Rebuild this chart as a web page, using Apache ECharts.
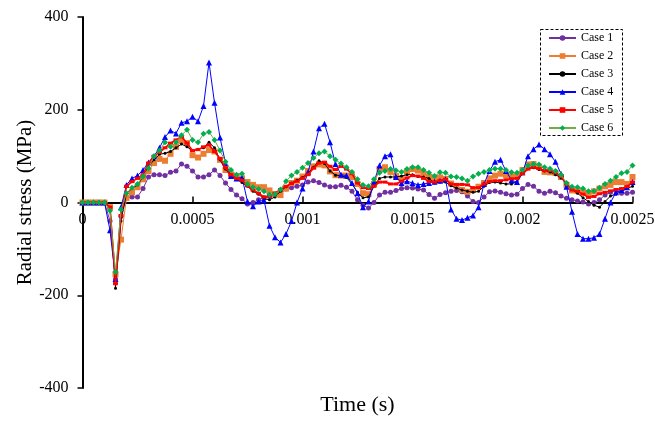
<!DOCTYPE html>
<html>
<head>
<meta charset="utf-8">
<script src="https://cdn.jsdelivr.net/npm/echarts@6/dist/echarts.min.js"></script>
<style>
  html, body { margin: 0; padding: 0; background: #fff; }
  #chart { width: 655px; height: 421px; }
</style>
</head>
<body>
<div id="chart"></div>
<script>
// Sampling interval of the recorded stress histories (s)
const TIME_STEP = 2.5e-5;

const xTicks = [0, 0.0005, 0.001, 0.0015, 0.002, 0.0025];
const yTicks = [-400, -200, 0, 200, 400];

const caseNames = ['Case 1', 'Case 2', 'Case 3', 'Case 4', 'Case 5', 'Case 6'];

// Radial stress (MPa) per case, one value per time step
const case1 = [
  0, 0, 0, 0, 0, -40, -165, -30, 10, 12,
  12, 30, 55, 60, 60, 58, 65, 68, 83, 78,
  68, 55, 55, 60, 70, 58, 42, 28, 16, 8,
  -3, 0, 6, 10, 13, 16, 22, 29, 32, 35,
  38, 44, 47, 43, 38, 34, 34, 37, 33, 24,
  6, -6, -12, 0, 16, 22, 22, 26, 30, 32,
  31, 29, 27, 17, 9, 17, 21, 24, 26, 23,
  14, 2, 0, 12, 23, 25, 22, 19, 16, 18,
  30, 39, 35, 24, 20, 24, 21, 14, 9, 6,
  3, 1, -3, 0, 6, 16, 22, 26, 20, 20,
  22
];
const case2 = [
  0, 0, 0, 0, 0, -10, -155, -80, 10, 22,
  33, 50, 68, 85, 94, 90, 105, 120, 133, 128,
  102, 97, 105, 113, 110, 92, 70, 60, 57, 52,
  44, 38, 33, 33, 26, 18, 16, 30, 42, 47,
  56, 68, 78, 82, 80, 67, 59, 58, 58, 55,
  40, 20, 18, 40, 72, 76, 66, 57, 52, 67,
  72, 69, 62, 55, 52, 54, 51, 41, 35, 27,
  23, 27, 34, 42, 52, 58, 62, 59, 56, 58,
  70, 82, 83, 77, 66, 65, 64, 55, 38, 26,
  25, 22, 19, 24, 30, 35, 38, 44, 44, 40,
  55
];
const case3 = [
  0, 0, 0, 0, 0, -10, -185, -40, 20, 30,
  38, 55, 78, 92, 104, 106, 110, 118, 126, 120,
  112, 115, 118, 130, 118, 92, 72, 57, 50, 43,
  35, 24, 18, 8, 6, 12, 24, 34, 42, 48,
  54, 63, 76, 90, 84, 68, 59, 58, 54, 40,
  22, 10, 12, 35, 52, 55, 55, 55, 57, 60,
  60, 56, 55, 52, 42, 44, 44, 36, 31, 27,
  24, 22, 24, 35, 43, 44, 42, 40, 40, 45,
  62, 74, 75, 71, 68, 66, 60, 53, 40, 28,
  20, 10, 2, -6, -10, 2, 14, 18, 24, 30,
  35
];
const case4 = [
  0, 0, 0, 0, 0, -60, -165, -10, 38, 52,
  58, 70, 86, 100, 118, 141, 155, 149, 172, 175,
  185, 175, 208, 302, 215, 140, 85, 57, 52, 54,
  2, -8, 2, 5, -50, -75, -86, -68, -40, 0,
  30, 65, 110, 160, 170, 130, 83, 60, 58, 42,
  20, -10, 2, 45, 80, 100, 104, 55, 42, 46,
  42, 38, 40, 42, 45, 47, 50, -15, -35, -38,
  -33, -28, -10, 40, 68, 88, 92, 68, 48, 44,
  65, 100, 115, 125, 115, 104, 88, 62, 34, -20,
  -68, -78, -78, -76, -68, -35, 0, 22, 27, 33,
  44
];
const case5 = [
  0, 0, 0, 0, 0, -10, -175, -28, 35, 45,
  52, 60, 85, 100, 108, 118, 128, 135, 142, 128,
  112, 114, 120, 124, 110, 95, 75, 60, 52, 48,
  36, 27, 20, 12, 14, 20, 28, 35, 41, 46,
  52, 60, 74, 85, 87, 78, 71, 78, 72, 62,
  42, 32, 30, 35, 44, 44, 40, 40, 46, 53,
  58, 57, 52, 45, 44, 47, 50, 40, 39, 39,
  38, 32, 32, 40, 45, 47, 47, 49, 51, 52,
  62, 72, 76, 73, 69, 69, 64, 56, 40, 27,
  24, 18, 11, 13, 19, 22, 25, 28, 30, 34,
  44
];
const case6 = [
  0, 0, 0, 0, 0, -18, -150, -15, 20, 32,
  40, 56, 74, 100, 112, 130, 120, 130, 145, 157,
  135, 130, 148, 152, 135, 112, 88, 70, 60, 62,
  40, 33, 29, 24, 17, 18, 28, 46, 58, 66,
  75, 85, 96, 106, 110, 100, 92, 84, 76, 66,
  50, 38, 35, 50, 64, 68, 72, 69, 66, 72,
  76, 76, 70, 64, 57, 65, 64, 56, 55, 52,
  47, 56, 62, 66, 70, 73, 73, 70, 65, 64,
  70, 80, 83, 82, 76, 73, 68, 60, 42, 34,
  33, 30, 24, 25, 32, 40, 47, 55, 63, 66,
  80
];

const caseValues = [case1, case2, case3, case4, case5, case6];

// Line / marker appearance for each case
const caseStyles = [
  { line: '#7030A0', marker: '#7030A0', symbol: 'circle',   size: 5, width: 1 },
  { line: '#ED7D31', marker: '#ED7D31', symbol: 'rect',     size: 6, width: 1 },
  { line: '#000000', marker: '#000000', symbol: 'circle',   size: 3, width: 1 },
  { line: '#0000FF', marker: '#0000FF', symbol: 'triangle', size: 6, width: 1 },
  { line: '#FF0000', marker: '#FF0000', symbol: 'rect',     size: [5, 3], width: 1.6 },
  { line: '#70AD47', marker: '#00B050', symbol: 'diamond',  size: 6, width: 1 }
];

const FONT = '"Liberation Serif", "Times New Roman", serif';

// Plot area edges (px) and the pixel row of zero stress
const GRID = { left: 82.5, right: 22.5, top: 17, bottom: 33 };
const PLOT_H = 421 - GRID.top - GRID.bottom;
const zeroOffset = -PLOT_H * (0 - yTicks[0]) / (yTicks[yTicks.length - 1] - yTicks[0]);

const series = caseNames.map((name, k) => {
  const st = caseStyles[k];
  return {
    name: name,
    type: 'line',
    data: caseValues[k].map((v, i) => [i * TIME_STEP, v]),
    symbol: st.symbol,
    symbolSize: st.size,
    showAllSymbol: true,
    lineStyle: { color: st.line, width: st.width },
    itemStyle: { color: st.marker, borderWidth: 0 },
    emphasis: { disabled: true },
    animation: false,
    z: 2 + k
  };
});

const chart = echarts.init(document.getElementById('chart'), null, { renderer: 'canvas' });

chart.setOption({
  backgroundColor: '#ffffff',
  animation: false,
  textStyle: { fontFamily: FONT, color: '#000' },
  grid: Object.assign({ containLabel: false, outerBoundsMode: 'none' }, GRID),
  xAxis: {
    type: 'value',
    min: xTicks[0],
    max: xTicks[xTicks.length - 1],
    interval: xTicks[1] - xTicks[0],
    position: 'bottom',
    offset: zeroOffset,
    name: 'Time (s)',
    nameLocation: 'middle',
    nameGap: 192,
    nameMoveOverlap: false,
    nameTextStyle: { fontFamily: FONT, fontSize: 22, color: '#000' },
    axisLine: { onZero: false, lineStyle: { color: '#000', width: 2 } },
    axisTick: { show: true, inside: true, length: 6, lineStyle: { color: '#000', width: 1.5 } },
    axisLabel: {
      fontFamily: FONT, fontSize: 16, color: '#000', margin: 9,
      showMinLabel: true, showMaxLabel: true,
      formatter: v => String(parseFloat(Number(v).toPrecision(6)))
    },
    splitLine: { show: false }
  },
  yAxis: {
    type: 'value',
    min: yTicks[0],
    max: yTicks[yTicks.length - 1],
    interval: yTicks[1] - yTicks[0],
    name: 'Radial stress (MPa)',
    nameLocation: 'middle',
    nameGap: 47,
    nameRotate: 90,
    nameMoveOverlap: false,
    nameTextStyle: { fontFamily: FONT, fontSize: 21, color: '#000' },
    axisLine: { onZero: false, lineStyle: { color: '#000', width: 2 } },
    axisTick: { show: true, inside: false, length: 5, lineStyle: { color: '#000', width: 1.5 } },
    axisLabel: { fontFamily: FONT, fontSize: 16, color: '#000', margin: 14 },
    splitLine: { show: false }
  },
  legend: {
    orient: 'vertical',
    left: 548,
    top: 32,
    padding: 0,
    itemWidth: 27,
    itemHeight: 7,
    itemGap: 6,
    textStyle: { fontFamily: FONT, fontSize: 12, color: '#000' },
    data: caseNames
  },
  graphic: [{
    type: 'rect',
    shape: { x: 540.5, y: 29.5, width: 82, height: 106 },
    style: { fill: null, stroke: '#000', lineWidth: 1, lineDash: [3, 2] },
    z: 100
  }],
  series: series
});
</script>
</body>
</html>
